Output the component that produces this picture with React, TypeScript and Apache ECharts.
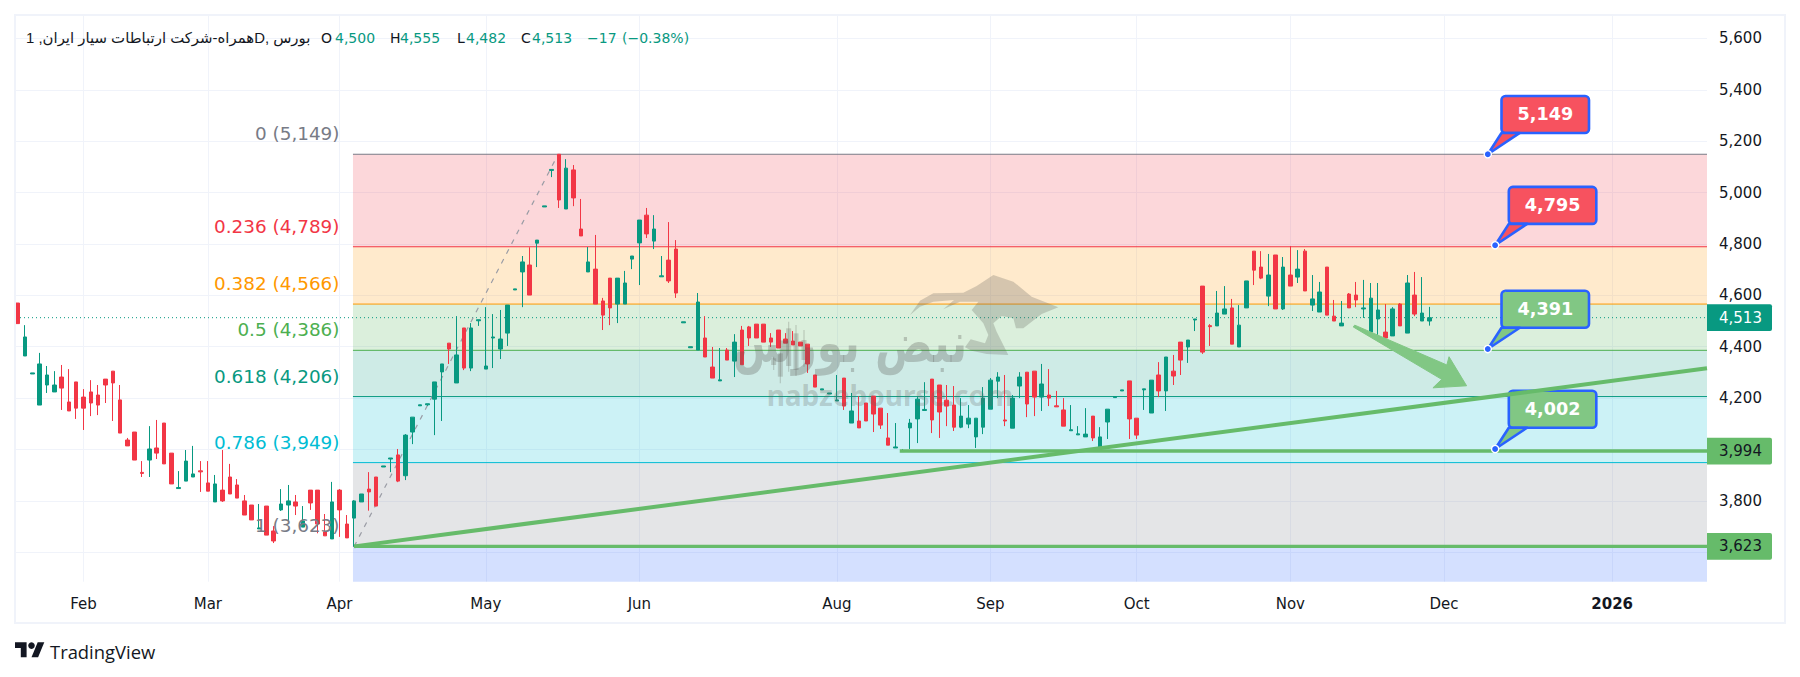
import React, { useEffect, useRef } from "react";
import * as echarts from "echarts";

// [open, close, low, high] per trading day
const ohlc: number[][] = [
[4570,4490,4490,4570],[4364,4438,4364,4484],[4294,4298,4294,4298],[4173,4333,4173,4376],[4251,4290,4220,4325],[4224,4251,4224,4305],[4282,4239,4154,4329],[4185,4150,4150,4313],[4263,4161,4119,4263],[4204,4161,4076,4235],
[4224,4181,4130,4270],[4212,4173,4134,4251],[4274,4251,4181,4274],[4305,4259,4111,4305],[4193,4064,4064,4251],[4037,4014,4014,4045],[4068,3959,3959,4068],[3911,3907,3893,3955],[3959,4002,3893,4091],[4006,3986,3963,4115],
[4103,3944,3944,4103],[3986,3866,3866,3986],[3848,3852,3848,3916],[3877,3955,3877,3998],[3893,3905,3893,4014],[3917,3913,3835,3955],[3870,3838,3838,3955],[3796,3866,3796,3901],[3842,3800,3796,3998],[3893,3827,3827,3944],
[3862,3811,3811,3885],[3800,3745,3745,3823],[3784,3726,3726,3784],[3691,3695,3691,3788],[3780,3667,3667,3780],[3683,3644,3636,3702],[3765,3788,3761,3846],[3784,3800,3722,3862],[3796,3780,3745,3823],[3698,3722,3698,3780],
[3842,3792,3765,3842],[3842,3710,3674,3842],[3679,3664,3664,3749],[3652,3796,3652,3874],[3842,3765,3660,3846],[3710,3656,3656,3745],[3733,3800,3623,3803],[3796,3827,3796,3827],[3846,3835,3762,3912],[3893,3780,3780,3893],
[3932,3936,3932,3936],[3963,3967,3912,3967],[3979,3877,3873,4002],[3898,4056,3881,4060],[4068,4126,4021,4126],[4170,4174,4170,4174],[4174,4178,4170,4178],[4196,4263,4056,4263],[4302,4333,4111,4333],[4414,4391,4333,4414],
[4259,4368,4259,4519],[4473,4317,4309,4473],[4317,4473,4305,4492],[4501,4505,4481,4505],[4313,4325,4313,4554],[4434,4438,4317,4527],[4391,4430,4352,4543],[4453,4562,4403,4562],[4621,4625,4621,4625],[4691,4730,4554,4753],
[4718,4601,4601,4787],[4803,4815,4710,4815],[4944,4948,4944,4948],[5086,5090,5060,5090],[5149,4971,4940,5149],[4936,5095,4936,5130],[5088,4979,4947,5107],[4858,4831,4831,4975],[4691,4730,4691,4788],[4702,4566,4566,4835],
[4578,4523,4465,4590],[4667,4551,4484,4667],[4566,4667,4492,4667],[4566,4648,4566,4695],[4741,4753,4702,4753],[4804,4893,4640,4893],[4912,4839,4823,4940],[4811,4858,4780,4912],[4672,4676,4672,4753],[4737,4656,4648,4885],
[4780,4609,4590,4815],[4493,4497,4493,4497],[4396,4400,4396,4400],[4387,4574,4387,4609],[4434,4360,4360,4519],[4321,4278,4278,4399],[4267,4271,4267,4395],[4387,4348,4348,4395],[4344,4418,4282,4449],[4465,4330,4330,4481],
[4477,4434,4403,4481],[4488,4434,4434,4488],[4488,4418,4418,4488],[4434,4418,4399,4453],[4465,4395,4395,4465],[4430,4414,4414,4453],[4422,4407,4407,4461],[4418,4403,4403,4418],[4410,4333,4298,4410],[4290,4243,4243,4290],
[4232,4236,4232,4236],[4216,4220,4216,4220],[4189,4193,4189,4290],[4278,4169,4154,4278],[4103,4150,4103,4220],[4111,4084,4084,4208],[4181,4111,4111,4181],[4208,4138,4068,4208],[4161,4095,4080,4161],[4045,4017,4017,4142],
[4006,4010,4006,4103],[3992,3996,3992,4002],[4084,4103,4002,4119],[4119,4196,4025,4204],[4152,4156,4152,4262],[4274,4115,4064,4274],[4251,4146,4045,4251],[4192,4169,4091,4251],[4173,4087,4072,4247],[4087,4130,4083,4200],
[4099,4122,4083,4173],[4049,4122,4006,4122],[4087,4200,4060,4243],[4157,4270,4157,4278],[4266,4282,4200,4301],[4115,4111,4091,4290],[4083,4200,4083,4212],[4247,4282,4200,4301],[4301,4177,4126,4301],[4305,4204,4130,4305],
[4204,4255,4150,4333],[4212,4200,4169,4313],[4170,4166,4166,4228],[4154,4091,4091,4200],[4073,4077,4073,4173],[4057,4061,4057,4091],[4049,4060,4049,4161],[4130,4045,4033,4130],[4002,4049,4002,4087],[4107,4157,4041,4157],
[4202,4206,4202,4206],[4228,4232,4228,4232],[4267,4119,4041,4267],[4122,4056,4041,4122],[4232,4236,4154,4236],[4142,4270,4142,4270],[4290,4228,4204,4340],[4228,4360,4150,4360],[4305,4286,4251,4368],[4418,4348,4290,4418],
[4399,4426,4337,4426],[4504,4508,4461,4508],[4636,4379,4372,4636],[4482,4478,4403,4488],[4481,4531,4481,4617],[4527,4547,4527,4636],[4551,4410,4410,4586],[4399,4484,4399,4562],[4551,4656,4551,4656],[4772,4698,4640,4772],
[4710,4667,4663,4772],[4597,4679,4558,4761],[4757,4547,4547,4757],[4547,4710,4543,4749],[4679,4636,4636,4792],[4671,4702,4648,4776],[4772,4617,4617,4780],[4562,4586,4539,4679],[4535,4613,4535,4652],[4710,4523,4523,4710],
[4519,4500,4500,4582],[4481,4492,4481,4578],[4605,4551,4551,4609],[4601,4582,4554,4652],[4547,4551,4512,4660],[4457,4589,4457,4648],[4508,4543,4446,4648],[4457,4434,4434,4566],[4442,4547,4442,4554],[4566,4481,4481,4570],
[4453,4648,4453,4679],[4601,4527,4519,4691],[4500,4531,4500,4671],[4500,4513,4482,4555],
];

const monthTickIndex = [9, 26, 44, 64, 85, 112, 133, 153, 174, 195, 218];
const monthTickLabels = ["Feb", "Mar", "Apr", "May", "Jun", "Aug", "Sep", "Oct", "Nov", "Dec", "2026"];
const priceGrid = [3600, 3800, 4000, 4200, 4400, 4600, 4800, 5000, 5200, 5400, 5600];
const priceLabels = [3800, 4200, 4400, 4600, 4800, 5000, 5200, 5400, 5600];

const fibRatios = ["0", "0.236", "0.382", "0.5", "0.618", "0.786", "1"];
const fibLevels = [5149, 4789, 4566, 4386, 4206, 3949, 3623];
const fibColors = ["#787b86", "#f23645", "#ff9800", "#4caf50", "#089981", "#00bcd4", "#787b86"];
const fibZoneColors = ["#f23645", "#ff9800", "#4caf50", "#089981", "#00bcd4", "#787b86", "#2962ff"];

const fibStart = 45.84;
const fibLabelIndex = 44;
const xMin = -0.232;
const xMax = 230.97;
const yMin = 3485.6;
const yMax = 5687;

const dashedLeg = [[46, 3623], [73.9, 5149]];
const trendLine = [[46, 3623], [xMax, 4316]];
const supportLow = [[46, 3623], [xMax, 3623]];
const supportMid = [[120.6, 3994], [xMax, 3994]];
const lastPrice = 4513;

const arrowPoints = [[182.8, 4484], [195.4, 4329], [195.7, 4361], [198.1, 4248], [193.5, 4240], [194.7, 4273], [182.6, 4477]];

const calloutIndex = [201, 202, 201, 202];
const calloutPrice = [5149, 4795, 4391, 4002];
const calloutLabel = ["5,149", "4,795", "4,391", "4,002"];
const calloutFill = ["#f7525f", "#f7525f", "#81c784", "#81c784"];

const tagPrice = [4513, 3994, 3623];
const tagLabel = ["4,513", "3,994", "3,623"];
const tagFill = ["#089981", "#66bb6a", "#66bb6a"];
const tagText = ["#ffffff", "#131722", "#131722"];

const title = "همراه-شرکت ارتباطات سیار ایران, 1D, بورس";
const FONT = '"DejaVu Sans"';
const GREEN = "#089981";
const INK = "#131722";
const LINE_GREEN = "#66bb6a";

const wm = (pts: number[][]) => pts.map(([X, Y]) => [730 + X / 3, 260 + Y / 3]);
const bullShape = wm([[540,165],[570,122],[610,100],[700,98],[740,78],[790,45],[850,65],[905,110],[985,142],[935,162],[880,205],[858,205],[850,175],[815,168],[790,190],[800,215],[835,285],[770,282],[725,272],[705,262],[722,238],[765,250],[775,225],[760,190],[725,150],[745,125],[690,125],[640,148],[672,120],[610,125],[570,140]]);
const wmCandles = [[131,290,330,295,315],[151,240,370,280,350],[176,185,335,205,318],[198,195,348,220,330],[222,210,320,240,300]];

function lineSeries(data: number[][], color: string, width: number, z: number, type: any = "solid") {
  return { type: "line", data, symbol: "none", silent: true, z, lineStyle: { color, width, type }, itemStyle: { color } };
}

export default function App() {
  const ref = useRef<HTMLDivElement>(null);
  useEffect(() => {
    document.body.style.margin = "0";
    document.body.style.background = "#ffffff";
    const chart = echarts.init(ref.current!, null, { renderer: "svg" });

    const headerText = (text: string, x: number, fill: string) => ({
      type: "text", x, y: 38, z: 100, silent: true,
      style: { text, fill, font: `14px ${FONT}`, verticalAlign: "middle" },
    });
    const wmGray = "rgba(100,100,92,0.27)";

    chart.setOption({
      animation: false,
      backgroundColor: "#ffffff",
      grid: { left: 16, top: 16, width: 1691, height: 565.7, containLabel: false },
      xAxis: {
        type: "value", min: xMin, max: xMax,
        axisLine: { show: false },
        axisTick: { show: false, customValues: monthTickIndex },
        splitLine: { show: true, lineStyle: { color: "#f0f3fa", width: 1 } },
        axisLabel: {
          customValues: monthTickIndex, margin: 15, color: INK, fontSize: 15, fontFamily: "DejaVu Sans",
          formatter: (v: number) => {
            const s = monthTickLabels[monthTickIndex.indexOf(v)];
            return s === "2026" ? "{b|2026}" : s;
          },
          rich: { b: { fontWeight: "bold", fontSize: 15, color: INK, fontFamily: "DejaVu Sans" } },
        },
      },
      yAxis: {
        type: "value", position: "right", min: yMin, max: yMax,
        axisLine: { show: false },
        axisTick: { show: false, customValues: priceGrid },
        splitLine: { show: true, lineStyle: { color: "#f0f3fa", width: 1 } },
        axisLabel: {
          customValues: priceLabels, margin: 12, color: INK, fontSize: 15, fontFamily: "DejaVu Sans", align: "left",
          formatter: (v: number) => v.toLocaleString("en-US"),
        },
      },
      series: [
        {
          type: "custom", z: 1, silent: true, data: fibZoneColors.map((_, i) => [i]),
          renderItem: (p: any, api: any) => {
            const i = p.dataIndex;
            const a = api.coord([fibStart, fibLevels[i]]);
            const b = api.coord([xMax, i < fibLevels.length - 1 ? fibLevels[i + 1] : yMin]);
            return { type: "rect", shape: { x: a[0], y: a[1], width: b[0] - a[0], height: b[1] - a[1] }, style: { fill: fibZoneColors[i], opacity: 0.2 } };
          },
        },
        ...fibLevels.map((lv, i) => lineSeries([[fibStart, lv], [xMax, lv]], fibColors[i], 1, 2)),
        lineSeries(dashedLeg, "#9a9ca5", 1.2, 2.5, [5, 6]),
        lineSeries([[xMin, lastPrice], [xMax, lastPrice]], GREEN, 1, 2.2, [1, 3]),
        {
          type: "candlestick", z: 3, silent: true, barWidth: 4,
          encode: { x: 0, y: [1, 2, 3, 4] },
          data: ohlc.map((r, i) => [i, r[0], r[1], r[2], r[3]]),
          itemStyle: { color: GREEN, color0: "#f23645", borderColor: GREEN, borderColor0: "#f23645", borderWidth: 1 },
        },
        lineSeries(supportLow, LINE_GREEN, 3.4, 4),
        lineSeries(supportMid, LINE_GREEN, 3.4, 4),
        {
          type: "custom", z: 4.5, silent: true, data: [[0]],
          renderItem: (_: any, api: any) => ({
            type: "polygon",
            shape: { points: arrowPoints.map((q) => api.coord(q)) },
            style: { fill: "#81c784", stroke: "#81c784", lineWidth: 1, lineJoin: "round" },
          }),
        },
        {
          type: "custom", z: 5, silent: true, data: fibLevels.map((_, i) => [i]),
          renderItem: (p: any, api: any) => {
            const i = p.dataIndex;
            const c = api.coord([fibLabelIndex, fibLevels[i]]);
            return {
              type: "text",
              style: { text: `${fibRatios[i]} (${fibLevels[i].toLocaleString("en-US")})`, x: c[0], y: c[1] - 20.5, fill: fibColors[i], font: `18.4px ${FONT}`, align: "right", verticalAlign: "middle" },
            };
          },
        },
        {
          type: "custom", z: 6, silent: true, data: calloutPrice.map((_, i) => [i]),
          renderItem: (p: any, api: any) => {
            const i = p.dataIndex;
            const [px, py] = api.coord([calloutIndex[i], calloutPrice[i]]);
            const fill = calloutFill[i];
            return {
              type: "group",
              children: [
                { type: "rect", shape: { x: px + 13.7, y: py - 58.3, width: 87.5, height: 37, r: 4 }, style: { fill, stroke: "#2962ff", lineWidth: 2.6 } },
                { type: "polygon", shape: { points: [[px, py], [px + 13.7, py - 21.3], [px + 32, py - 21.3]] }, style: { fill, stroke: "#2962ff", lineWidth: 2.6, lineJoin: "round" } },
                { type: "text", style: { text: calloutLabel[i], x: px + 57.5, y: py - 39.8, fill: "#ffffff", font: `bold 17.6px ${FONT}`, align: "center", verticalAlign: "middle" } },
                { type: "circle", shape: { cx: px, cy: py, r: 3.6 }, style: { fill: "#2962ff", stroke: "#ffffff", lineWidth: 1.4 } },
              ],
            };
          },
        },
        lineSeries(trendLine, LINE_GREEN, 4, 7),
        {
          type: "custom", z: 8, silent: true, clip: false, data: tagPrice.map((_, i) => [i]),
          renderItem: (p: any, api: any) => {
            const i = p.dataIndex;
            const [px, py] = api.coord([xMax, tagPrice[i]]);
            return {
              type: "group",
              children: [
                { type: "rect", shape: { x: px, y: py - 13.4, width: 65, height: 26.8, r: [0, 2, 2, 0] }, style: { fill: tagFill[i] } },
                { type: "text", style: { text: tagLabel[i], x: px + 12, y: py, fill: tagText[i], font: `15px ${FONT}`, align: "left", verticalAlign: "middle" } },
              ],
            };
          },
        },
      ],
      graphic: [
        { type: "rect", z: 100, silent: true, shape: { x: 15, y: 15, width: 1770, height: 608 }, style: { fill: "none", stroke: "#f0f3fa", lineWidth: 2 } },
        { type: "polygon", z: 90, silent: true, shape: { points: bullShape }, style: { fill: wmGray } },
        ...wmCandles.flatMap(([X, a, b, c, d]) => [
          { type: "rect", z: 90, silent: true, shape: { x: 730 + X / 3 - 0.6, y: 260 + a / 3, width: 1.2, height: (b - a) / 3 }, style: { fill: wmGray } },
          { type: "rect", z: 90, silent: true, shape: { x: 730 + X / 3 - 2.5, y: 260 + c / 3, width: 5, height: (d - c) / 3 }, style: { fill: wmGray } },
        ]),
        { type: "text", x: 850, y: 343, scaleY: 1.3, z: 91, silent: true, style: { text: "نبض بورس", fill: "rgba(90,90,85,0.3)", font: `bold 43px ${FONT}`, align: "center", verticalAlign: "middle" } },
        { type: "text", z: 91, silent: true, style: { text: "nabzebourse.com", x: 890, y: 395, fill: "rgba(100,100,95,0.27)", font: `bold 28px "Noto Sans"`, align: "center", verticalAlign: "middle" } },
        { type: "text", x: 26, y: 38, z: 100, silent: true, style: { text: title, fill: INK, font: `14.9px "Liberation Sans", ${FONT}`, verticalAlign: "middle" } },
        headerText("O", 321, INK), headerText("4,500", 335, GREEN),
        headerText("H", 390, INK), headerText("4,555", 400, GREEN),
        headerText("L", 457, INK), headerText("4,482", 466, GREEN),
        headerText("C", 521, INK), headerText("4,513", 532, GREEN),
        headerText("−17", 587, GREEN), headerText("(−0.38%)", 622, GREEN),
        { type: "polygon", z: 100, silent: true, shape: { points: [[15, 642.3], [26.6, 642.3], [26.6, 657.2], [20.8, 657.2], [20.8, 648.1], [15, 648.1]] }, style: { fill: INK } },
        { type: "polygon", z: 100, silent: true, shape: { points: [[31.5, 657.2], [37.7, 642.3], [44.3, 642.3], [38.1, 657.2]] }, style: { fill: INK } },
        { type: "circle", z: 100, silent: true, shape: { cx: 31.5, cy: 645.6, r: 3.3 }, style: { fill: INK } },
        { type: "text", x: 50, y: 651, z: 100, silent: true, style: { text: "TradingView", fill: INK, font: `18.4px "Open Sans"`, verticalAlign: "middle" } },
      ],
    });
    return () => chart.dispose();
  }, []);
  return <div ref={ref} style={{ width: 1800, height: 677 }} />;
}
